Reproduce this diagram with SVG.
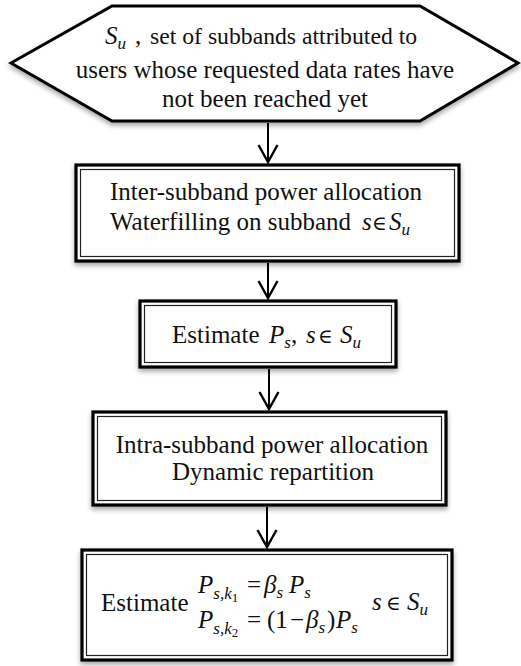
<svg xmlns="http://www.w3.org/2000/svg" width="521" height="666" viewBox="0 0 521 666">
<defs>
<style>
.t{font-family:"Liberation Serif","Times New Roman","DejaVu Serif",serif;font-size:25px;fill:#111}
.m{font-style:italic}
.sub{font-size:17px;font-style:italic}
.sub2{font-size:13px}
.el{font-size:20px}
.ob{fill:#fff;stroke:#000;stroke-width:3.2}
.ib{fill:none;stroke:#222;stroke-width:1.2}
.hex{fill:#fff;stroke:#000;stroke-width:3;stroke-linejoin:miter}
.c{fill:none;stroke:#000;stroke-width:2}
</style>
<filter id="sh" x="-10%" y="-10%" width="120%" height="130%">
<feDropShadow dx="0" dy="3" stdDeviation="2.5" flood-color="#000" flood-opacity="0.35"/>
</filter>
<marker id="ah" viewBox="-19 -11 21 22" markerWidth="21" markerHeight="22" refX="0" refY="0" orient="auto" markerUnits="userSpaceOnUse">
<path d="M-17,-9.5 L0,0 L-17,9.5" fill="none" stroke="#000" stroke-width="2.4"/>
</marker>
</defs>
<rect width="521" height="666" fill="#fff"/>

<g id="connectors">
<line class="c" x1="268" y1="123" x2="268" y2="162" marker-end="url(#ah)"/>
<line class="c" x1="268" y1="263" x2="268" y2="298" marker-end="url(#ah)"/>
<line class="c" x1="269" y1="369" x2="269" y2="409" marker-end="url(#ah)"/>
<line class="c" x1="267" y1="507" x2="267" y2="547" marker-end="url(#ah)"/>
</g>

<g id="start">
<polygon class="hex" filter="url(#sh)" points="11,63 112,6 420,6 518,63 420,121 112,121"/>
<text class="t" y="44"><tspan x="105" class="m">S</tspan><tspan class="sub" dy="5">u</tspan><tspan dy="-5" x="135">,</tspan><tspan x="150" style="font-size:23.7px">set of subbands attributed to</tspan></text>
<text class="t" x="265" y="78" text-anchor="middle">users whose requested data rates have</text>
<text class="t" x="265" y="107" text-anchor="middle">not been reached yet</text>
</g>

<g id="inter">
<rect class="ob" filter="url(#sh)" x="76" y="165" width="383" height="96"/>
<rect class="ib" x="80.5" y="169.5" width="374" height="87"/>
<text class="t" x="266" y="200" text-anchor="middle">Inter-subband power allocation</text>
<text class="t" y="230"><tspan x="110">Waterfilling on subband</tspan><tspan x="362" class="m">s</tspan><tspan x="372" class="el">∈</tspan><tspan x="389" class="m">S</tspan><tspan class="sub" dy="5">u</tspan></text>
</g>

<g id="estimate-ps">
<rect class="ob" filter="url(#sh)" x="140" y="301" width="256" height="66"/>
<rect class="ib" x="144.5" y="305.5" width="247" height="57"/>
<text class="t" y="343"><tspan x="172">Estimate</tspan><tspan x="269" class="m">P</tspan><tspan class="sub" dy="5">s</tspan><tspan dy="-5">,</tspan><tspan x="306" class="m">s</tspan><tspan x="318" class="el">∈</tspan><tspan x="340" class="m">S</tspan><tspan class="sub" dy="5">u</tspan></text>
</g>

<g id="intra">
<rect class="ob" filter="url(#sh)" x="93" y="412" width="353" height="93"/>
<rect class="ib" x="97.5" y="416.5" width="344" height="84"/>
<text class="t" x="272" y="453" text-anchor="middle">Intra-subband power allocation</text>
<text class="t" x="273" y="480" text-anchor="middle">Dynamic repartition</text>
</g>

<g id="estimate-k">
<rect class="ob" filter="url(#sh)" x="82" y="550" width="370" height="110"/>
<rect class="ib" x="86.5" y="554.5" width="361" height="101"/>
<text class="t" x="101" y="611">Estimate</text>
<text class="t" y="593"><tspan x="198" class="m">P</tspan><tspan class="sub" dy="6">s,k</tspan><tspan class="sub2" dy="3">1</tspan><tspan x="247" dy="-9">=</tspan><tspan x="264" class="m">β</tspan><tspan class="sub" dy="5">s</tspan><tspan x="289" class="m" dy="-5">P</tspan><tspan class="sub" dy="5">s</tspan></text>
<text class="t" y="628"><tspan x="198" class="m">P</tspan><tspan class="sub" dy="6">s,k</tspan><tspan class="sub2" dy="3">2</tspan><tspan x="247" dy="-9">=</tspan><tspan x="267">(1</tspan><tspan x="290">−</tspan><tspan x="306" class="m">β</tspan><tspan class="sub" dy="5">s</tspan><tspan x="327" dy="-5">)</tspan><tspan x="336" class="m">P</tspan><tspan class="sub" dy="5">s</tspan></text>
<text class="t" y="610"><tspan x="372" class="m">s</tspan><tspan x="386" class="el">∈</tspan><tspan x="407" class="m">S</tspan><tspan class="sub" dy="5">u</tspan></text>
</g>
</svg>
